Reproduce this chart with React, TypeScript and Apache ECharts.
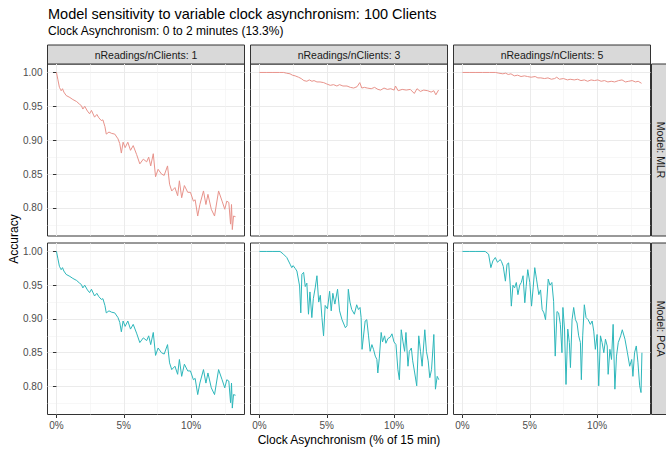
import React, { useEffect, useRef } from 'react';
import * as echarts from 'echarts';

const TITLE = 'Model sensitivity to variable clock asynchronism: 100 Clients';
const SUBTITLE = 'Clock Asynchronism: 0 to 2 minutes (13.3%)';
const COL_LABELS = ['nReadings/nClients: 1', 'nReadings/nClients: 3', 'nReadings/nClients: 5'];
const ROW_LABELS = ['Model: MLR', 'Model: PCA'];
const X_TITLE = 'Clock Asynchronism (% of 15 min)';
const Y_TITLE = 'Accuracy';
const X_TICKS = [0, 5, 10];
const Y_TICKS = [0.8, 0.85, 0.9, 0.95, 1.0];

const mlr1 = [[0,1.0],[0.1,0.99],[0.22,0.978],[0.3,0.975],[0.35,0.973],[0.45,0.976],[0.55,0.971],[0.72,0.966],[1.0,0.963],[1.22,0.960],[1.5,0.957],[1.72,0.953],[1.85,0.951],[1.96,0.946],[2.1,0.950],[2.3,0.943],[2.46,0.939],[2.6,0.944],[2.83,0.934],[3.0,0.938],[3.15,0.933],[3.33,0.929],[3.45,0.930],[3.6,0.92],[3.7,0.909],[3.9,0.912],[4.1,0.910],[4.33,0.909],[4.57,0.902],[4.7,0.895],[4.82,0.881],[4.95,0.897],[5.1,0.889],[5.3,0.897],[5.5,0.885],[5.7,0.892],[5.95,0.879],[6.19,0.865],[6.45,0.872],[6.7,0.868],[6.85,0.875],[7.0,0.862],[7.19,0.880],[7.36,0.846],[7.55,0.857],[7.8,0.850],[8.0,0.848],[8.25,0.862],[8.4,0.835],[8.56,0.825],[8.8,0.830],[9.0,0.818],[9.13,0.840],[9.3,0.815],[9.5,0.833],[9.75,0.823],[9.95,0.823],[10.17,0.810],[10.3,0.812],[10.49,0.788],[10.65,0.805],[10.92,0.825],[11.1,0.805],[11.25,0.820],[11.5,0.798],[11.74,0.788],[12.04,0.825],[12.3,0.810],[12.5,0.798],[12.65,0.810],[12.8,0.808],[12.93,0.776],[13.0,0.805],[13.06,0.768],[13.15,0.788],[13.3,0.787]];

const mlr3 = [[0,1.0],[0.5,1.0],[1.0,1.0],[1.5,1.0],[1.8,1.0],[2.0,0.999],[2.27,0.998],[2.45,0.996],[2.65,0.995],[2.9,0.993],[3.1,0.991],[3.3,0.988],[3.52,0.987],[3.7,0.989],[3.9,0.987],[4.05,0.988],[4.27,0.986],[4.5,0.986],[4.77,0.985],[5.0,0.983],[5.26,0.981],[5.5,0.982],[5.75,0.980],[5.95,0.982],[6.2,0.980],[6.5,0.980],[6.75,0.978],[7.0,0.977],[7.25,0.979],[7.45,0.985],[7.6,0.977],[7.8,0.978],[8.0,0.977],[8.3,0.976],[8.55,0.978],[8.8,0.975],[9.0,0.974],[9.25,0.977],[9.5,0.975],[9.75,0.976],[10.0,0.974],[10.1,0.980],[10.3,0.973],[10.6,0.975],[10.9,0.974],[11.2,0.975],[11.5,0.969],[11.7,0.976],[11.95,0.972],[12.2,0.974],[12.5,0.973],[12.75,0.971],[12.95,0.973],[13.1,0.967],[13.3,0.974]];

const mlr5 = [[0,1.0],[0.5,1.0],[1.0,1.0],[1.5,1.0],[2.0,1.0],[2.46,1.0],[2.7,0.999],[3.0,0.998],[3.2,0.999],[3.4,0.997],[3.6,0.998],[3.85,0.995],[4.1,0.996],[4.35,0.994],[4.6,0.995],[4.83,0.994],[5.1,0.993],[5.4,0.994],[5.6,0.992],[5.82,0.992],[6.1,0.991],[6.35,0.992],[6.6,0.990],[6.85,0.991],[7.0,0.993],[7.2,0.990],[7.5,0.991],[7.8,0.989],[8.0,0.990],[8.3,0.989],[8.55,0.990],[8.8,0.988],[9.05,0.989],[9.3,0.987],[9.55,0.989],[9.8,0.988],[10.05,0.989],[10.3,0.987],[10.55,0.988],[10.8,0.986],[11.05,0.987],[11.3,0.986],[11.6,0.988],[11.85,0.989],[12.1,0.986],[12.35,0.987],[12.6,0.988],[12.85,0.986],[13.05,0.987],[13.3,0.984]];

const pca1 = [[0,1.0],[0.1,0.99],[0.22,0.978],[0.3,0.975],[0.35,0.973],[0.45,0.976],[0.55,0.971],[0.72,0.966],[1.0,0.963],[1.22,0.960],[1.5,0.957],[1.72,0.953],[1.85,0.951],[1.96,0.946],[2.1,0.950],[2.3,0.943],[2.46,0.939],[2.6,0.944],[2.83,0.934],[3.0,0.938],[3.15,0.933],[3.33,0.929],[3.45,0.930],[3.6,0.92],[3.7,0.909],[3.9,0.912],[4.1,0.910],[4.33,0.909],[4.57,0.902],[4.7,0.895],[4.82,0.881],[4.95,0.897],[5.1,0.889],[5.3,0.897],[5.5,0.885],[5.7,0.892],[5.95,0.879],[6.19,0.865],[6.45,0.872],[6.7,0.868],[6.85,0.875],[7.0,0.862],[7.19,0.880],[7.36,0.846],[7.55,0.857],[7.8,0.850],[8.0,0.848],[8.25,0.862],[8.4,0.835],[8.56,0.825],[8.8,0.830],[9.0,0.818],[9.13,0.840],[9.3,0.815],[9.5,0.833],[9.75,0.823],[9.95,0.823],[10.17,0.810],[10.3,0.812],[10.49,0.788],[10.65,0.805],[10.92,0.825],[11.1,0.805],[11.25,0.820],[11.5,0.798],[11.74,0.788],[12.04,0.825],[12.3,0.810],[12.5,0.798],[12.65,0.810],[12.8,0.808],[12.93,0.776],[13.0,0.805],[13.06,0.768],[13.15,0.788],[13.3,0.787]];

const pca3 = [[0,1.0],[0.5,1.0],[1.0,1.0],[1.53,1.0],[1.78,0.996],[2.03,0.991],[2.28,0.981],[2.4,0.976],[2.5,0.979],[2.65,0.975],[2.78,0.971],[2.98,0.949],[3.07,0.909],[3.15,0.966],[3.28,0.969],[3.4,0.948],[3.52,0.953],[3.64,0.907],[3.75,0.94],[3.89,0.902],[4.0,0.93],[4.14,0.946],[4.27,0.964],[4.4,0.925],[4.52,0.935],[4.64,0.902],[4.76,0.875],[4.88,0.92],[5.05,0.915],[5.21,0.941],[5.33,0.912],[5.45,0.938],[5.6,0.922],[5.8,0.944],[5.95,0.912],[6.13,0.899],[6.38,0.887],[6.5,0.89],[6.6,0.944],[6.72,0.925],[6.85,0.914],[7.05,0.907],[7.22,0.921],[7.35,0.914],[7.47,0.917],[7.55,0.902],[7.62,0.855],[7.85,0.897],[7.97,0.899],[8.1,0.875],[8.22,0.852],[8.35,0.862],[8.47,0.855],[8.6,0.845],[8.72,0.84],[8.79,0.820],[8.9,0.842],[9.04,0.880],[9.14,0.866],[9.29,0.875],[9.39,0.864],[9.54,0.871],[9.71,0.873],[9.84,0.878],[9.99,0.866],[10.14,0.862],[10.28,0.825],[10.39,0.810],[10.53,0.884],[10.66,0.866],[10.78,0.852],[10.88,0.880],[11.03,0.830],[11.13,0.852],[11.28,0.857],[11.38,0.838],[11.53,0.82],[11.68,0.801],[11.83,0.875],[11.96,0.852],[12.08,0.830],[12.28,0.884],[12.4,0.852],[12.53,0.838],[12.65,0.813],[12.78,0.825],[12.95,0.877],[13.07,0.796],[13.2,0.815],[13.32,0.810]];

const pca5 = [[0,1.0],[0.5,1.0],[1.0,1.0],[1.69,1.0],[1.94,0.996],[2.11,0.976],[2.26,0.986],[2.44,0.991],[2.6,0.984],[2.81,0.988],[2.9,0.985],[3.03,0.978],[3.19,0.956],[3.31,0.981],[3.43,0.983],[3.55,0.95],[3.63,0.919],[3.75,0.95],[3.87,0.946],[4.0,0.954],[4.12,0.936],[4.25,0.95],[4.37,0.954],[4.5,0.964],[4.63,0.924],[4.73,0.948],[4.85,0.973],[5.0,0.954],[5.13,0.919],[5.25,0.946],[5.37,0.976],[5.5,0.959],[5.67,0.936],[5.8,0.943],[5.92,0.914],[6.05,0.909],[6.17,0.899],[6.37,0.959],[6.5,0.95],[6.64,0.954],[6.77,0.926],[6.89,0.845],[7.02,0.911],[7.14,0.909],[7.27,0.892],[7.39,0.85],[7.46,0.917],[7.58,0.885],[7.69,0.803],[7.82,0.885],[7.94,0.865],[8.02,0.828],[8.14,0.899],[8.26,0.917],[8.39,0.899],[8.51,0.894],[8.63,0.875],[8.76,0.865],[8.83,0.810],[8.93,0.875],[9.05,0.921],[9.18,0.902],[9.33,0.899],[9.5,0.892],[9.63,0.897],[9.75,0.882],[9.87,0.855],[10.0,0.877],[10.12,0.801],[10.25,0.875],[10.37,0.865],[10.5,0.850],[10.62,0.870],[10.75,0.860],[10.82,0.818],[10.95,0.855],[11.07,0.840],[11.19,0.892],[11.32,0.796],[11.44,0.845],[11.57,0.865],[11.75,0.875],[11.87,0.884],[12.07,0.870],[12.25,0.850],[12.42,0.830],[12.57,0.840],[12.66,0.815],[12.78,0.850],[12.91,0.860],[13.03,0.836],[13.16,0.801],[13.26,0.791],[13.33,0.850]];

const SERIES_DATA = [[mlr1, mlr3, mlr5], [pca1, pca3, pca5]];
const ROW_COLORS = ['#e8938b', '#2db7bb'];

const FONT = '"Liberation Sans", Arial, sans-serif';
const COL_LEFT = [47.5, 250.5, 453.5];
const PANEL_W = 197;
const ROW_TOP = [64, 243];
const PANEL_H = [172, 171.5];
const STRIP_TOP = 45;
const STRIP_W = 18;

export default function App() {
  const ref = useRef<HTMLDivElement>(null);
  useEffect(() => {
    if (!ref.current) return;
    const chart = echarts.init(ref.current, null, { renderer: 'svg' });
    const grids: any[] = [];
    const xAxes: any[] = [];
    const yAxes: any[] = [];
    const series: any[] = [];
    const graphics: any[] = [];
    for (let r = 0; r < 2; r++) {
      for (let c = 0; c < 3; c++) {
        const i = r * 3 + c;
        grids.push({
          left: COL_LEFT[c], top: ROW_TOP[r], width: PANEL_W, height: PANEL_H[r],
          show: true, borderColor: '#333333', borderWidth: 1, backgroundColor: '#ffffff', containLabel: false,
        });
        xAxes.push({
          type: 'value', gridIndex: i, min: -0.665, max: 13.965, minInterval: 5, maxInterval: 5,
          axisLine: { show: false },
          axisTick: { show: r === 1, length: 3.5, customValues: X_TICKS, lineStyle: { color: '#333333' } },
          axisLabel: { show: r === 1, customValues: X_TICKS, formatter: (v: number) => v + '%', color: '#4d4d4d', fontSize: 10, fontFamily: FONT, margin: 6 },
          splitLine: { show: true, lineStyle: { color: '#ebebeb', width: 1 } },
          minorTick: { show: false, splitNumber: 2 },
          minorSplitLine: { show: true, lineStyle: { color: '#f2f2f2', width: 0.6 } },
        });
        yAxes.push({
          type: 'value', gridIndex: i, min: 0.7585, max: 1.0125, minInterval: 0.05, maxInterval: 0.05,
          axisLine: { show: false },
          axisTick: { show: c === 0, length: 3.5, customValues: Y_TICKS, lineStyle: { color: '#333333' } },
          axisLabel: { show: c === 0, customValues: Y_TICKS, formatter: (v: number) => v.toFixed(2), color: '#4d4d4d', fontSize: 10, fontFamily: FONT, margin: 5 },
          splitLine: { show: true, lineStyle: { color: '#ebebeb', width: 1 } },
          minorTick: { show: false, splitNumber: 2 },
          minorSplitLine: { show: true, lineStyle: { color: '#f2f2f2', width: 0.6 } },
        });
        series.push({
          type: 'line', xAxisIndex: i, yAxisIndex: i, data: SERIES_DATA[r][c],
          showSymbol: false, symbol: 'none', silent: true,
          lineStyle: { color: ROW_COLORS[r], width: 1 },
        });
      }
    }
    // top strips
    for (let c = 0; c < 3; c++) {
      graphics.push({
        type: 'rect', shape: { x: COL_LEFT[c], y: STRIP_TOP, width: PANEL_W, height: ROW_TOP[0] - STRIP_TOP },
        style: { fill: '#d9d9d9', stroke: '#333333', lineWidth: 1 },
      });
      graphics.push({
        type: 'text', x: COL_LEFT[c] + PANEL_W / 2, y: (STRIP_TOP + ROW_TOP[0]) / 2,
        style: { text: COL_LABELS[c], font: `10.5px ${FONT}`, fill: '#1a1a1a', textAlign: 'center', textVerticalAlign: 'middle' },
      });
    }
    // right strips
    const stripX = COL_LEFT[2] + PANEL_W + 1;
    for (let r = 0; r < 2; r++) {
      graphics.push({
        type: 'rect', shape: { x: stripX, y: ROW_TOP[r], width: STRIP_W, height: PANEL_H[r] },
        style: { fill: '#d9d9d9', stroke: '#333333', lineWidth: 1 },
      });
      graphics.push({
        type: 'text', x: stripX + STRIP_W / 2, y: ROW_TOP[r] + PANEL_H[r] / 2, rotation: -Math.PI / 2,
        style: { text: ROW_LABELS[r], font: `10.5px ${FONT}`, fill: '#1a1a1a', textAlign: 'center', textVerticalAlign: 'middle' },
      });
    }
    graphics.push({
      type: 'text', x: 48, y: 14,
      style: { text: TITLE, font: `14.5px ${FONT}`, fill: '#000000', textAlign: 'left', textVerticalAlign: 'middle' },
    });
    graphics.push({
      type: 'text', x: 48, y: 31,
      style: { text: SUBTITLE, font: `12px ${FONT}`, fill: '#000000', textAlign: 'left', textVerticalAlign: 'middle' },
    });
    graphics.push({
      type: 'text', x: 349, y: 440,
      style: { text: X_TITLE, font: `12px ${FONT}`, fill: '#000000', textAlign: 'center', textVerticalAlign: 'middle' },
    });
    graphics.push({
      type: 'text', x: 14, y: 239, rotation: Math.PI / 2,
      style: { text: Y_TITLE, font: `12px ${FONT}`, fill: '#000000', textAlign: 'center', textVerticalAlign: 'middle' },
    });

    chart.setOption({
      animation: false,
      backgroundColor: '#ffffff',
      grid: grids,
      xAxis: xAxes,
      yAxis: yAxes,
      series,
      graphic: graphics,
    });
    return () => chart.dispose();
  }, []);
  return <div ref={ref} style={{ position: 'absolute', left: 0, top: 0, width: 666, height: 449 }} />;
}
